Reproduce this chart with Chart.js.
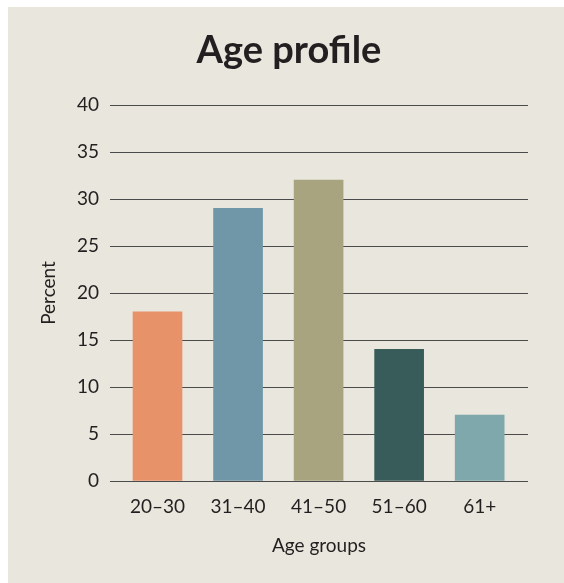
<!DOCTYPE html>
<html>
<head>
<meta charset="utf-8">
<script src="https://cdn.jsdelivr.net/npm/chart.js@4/dist/chart.umd.min.js"></script>
<style>
  html, body { margin:0; padding:0; background:#ffffff; }
  #wrap { position:relative; width:564px; height:583px; }
  canvas { display:block; }
</style>
</head>
<body>
<div id="wrap"><canvas id="ageChart" width="564" height="583"></canvas></div>
<script>
// Age profile: share of people per age band
const ageGroups = ['20\u201330', '31\u201340', '41\u201350', '51\u201360', '61+'];
const percents = [18, 29, 32, 14, 7];
const barColors = ['#e8926a', '#7097a8', '#a9a480', '#385c5a', '#7ea8ac'];
const yTicks = [0, 5, 10, 15, 20, 25, 30, 35, 40];
const chartTitle = 'Age profile';

const FONT = 'Lato, "Open Sans", sans-serif';
const INK = '#231f20';

// beige panel behind the chart (thin white strip top/left) plus the heading
const panel = {
  id: 'panel',
  beforeDraw(chart){
    const ctx = chart.ctx;
    ctx.save();
    ctx.fillStyle = '#e9e6dd';
    ctx.fillRect(8, 7, chart.width - 8, chart.height - 7);
    ctx.fillStyle = INK;
    ctx.font = 'bold 38px ' + FONT;
    ctx.textAlign = 'center';
    ctx.textBaseline = 'alphabetic';
    ctx.fillText(chartTitle, 289, 63);
    ctx.restore();
  }
};

new Chart(document.getElementById('ageChart').getContext('2d'), {
  type: 'bar',
  data: {
    datasets: [{
      label: 'Percent',
      data: percents.map((v, i) => ({x: i + 1, y: v})),
      backgroundColor: barColors,
      borderWidth: 0,
      barThickness: 49
    }]
  },
  options: {
    responsive: false,
    animation: false,
    layout: { padding: { left: 0, right: 36, top: 105, bottom: 0 } },
    plugins: {
      legend: { display: false },
      tooltip: { enabled: false },
      title: { display: false }
    },
    scales: {
      x: {
        type: 'linear',
        offset: false,
        min: 0.41,
        max: 5.6,
        afterFit(s){ s.height = 102; },
        afterBuildTicks(s){ s.ticks = ageGroups.map((g, i) => ({value: i + 1})); },
        grid: { display: false },
        border: { display: false },
        ticks: {
          color: INK,
          padding: 6,
          font: { family: FONT, size: 19 },
          callback: v => ageGroups[v - 1]
        },
        title: {
          display: true,
          text: 'Age groups',
          color: INK,
          font: { family: FONT, size: 19 },
          padding: { top: 0, bottom: 26 }
        }
      },
      y: {
        min: 0,
        max: 40,
        afterFit(s){ s.width = 110; },
        afterBuildTicks(s){ s.ticks = yTicks.map(v => ({value: v})); },
        grid: { color: '#4b4b4b', lineWidth: 1, drawTicks: false },
        border: { display: false },
        ticks: {
          color: INK,
          padding: 11,
          font: { family: FONT, size: 19 }
        },
        title: {
          display: true,
          text: 'Percent',
          color: INK,
          font: { family: FONT, size: 19 },
          padding: { top: 37, bottom: 0 }
        }
      }
    }
  },
  plugins: [panel]
});
</script>
</body>
</html>
